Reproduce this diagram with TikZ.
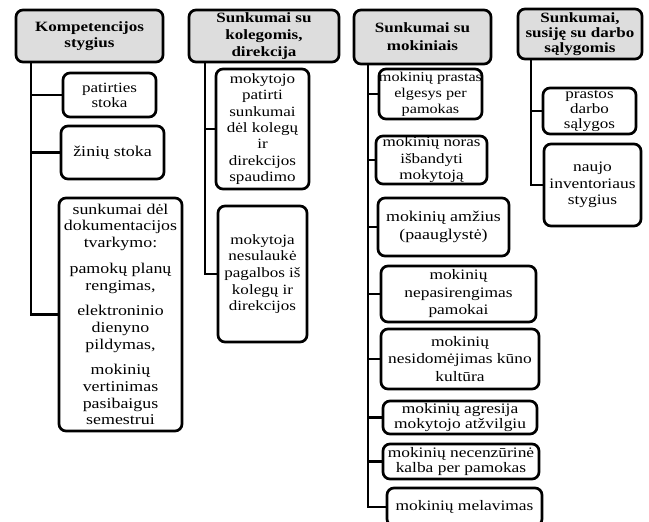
\documentclass[tikz,border=0pt]{standalone}
\usepackage{fontspec}
\setmainfont{Liberation Serif}[FakeStretch=1.2]
\newcommand\fsz[2]{\fontsize{#1pt}{#2pt}\selectfont}
\tikzset{
  box/.style={draw=black, line width=2.7pt, rounded corners=7pt, fill=white, align=center, inner sep=0pt},
  headbox/.style={box, fill=gray!27},
  conn/.style={draw=black, line width=2.7pt}
}
\begin{document}
\begin{tikzpicture}[x=1pt,y=1pt]
\useasboundingbox (0,0) rectangle (649,-522);
% column 1
\node[headbox, minimum width=147pt, minimum height=52pt, font=\fsz{14.2}{16.7}\bfseries] (h1) at (89.5,-36) {Kompetencijos\\stygius};
\node[box, minimum width=93pt, minimum height=44pt, font=\fsz{14.2}{15}] (a1) at (109.5,-95) {patirties\\stoka};
\node[box, minimum width=103pt, minimum height=53pt, font=\fsz{15}{16}] (a2) at (112.5,-152.5) {žinių stoka};
\node[box, minimum width=123pt, minimum height=233pt, font=\fsz{14.9}{16.7}] (a3) at (120.5,-314.5) {sunkumai dėl\\dokumentacijos\\tvarkymo:\\[9pt]pamokų planų\\rengimas,\\[9pt]elektroninio\\dienyno\\pildymas,\\[9pt]mokinių\\vertinimas\\pasibaigus\\semestrui};
\coordinate (s1) at (31,-62);
\draw[conn] (s1) |- (a1.west);
\draw[conn] (s1) |- (a2.west);
\draw[conn] (s1) |- (a3.west);
% column 2
\node[headbox, minimum width=150pt, minimum height=52pt, font=\fsz{14.2}{17}\bfseries] (h2) at (264,-36) {Sunkumai su\\kolegomis,\\direkcija};
\node[box, minimum width=93pt, minimum height=120pt, font=\fsz{14.2}{16.3}] (b1) at (262.5,-129) {mokytojo\\patirti\\sunkumai\\dėl kolegų\\ir\\direkcijos\\spaudimo};
\node[box, minimum width=89pt, minimum height=136pt, font=\fsz{14.2}{16.7}] (b2) at (262.5,-274) {mokytoja\\nesulaukė\\pagalbos iš\\kolegų ir\\direkcijos};
\coordinate (s2) at (205,-62);
\draw[conn] (s2) |- (b1.west);
\draw[conn] (s2) |- (b2.west);
% column 3
\node[headbox, minimum width=137pt, minimum height=54pt, font=\fsz{14.2}{18}\bfseries] (h3) at (422.5,-37) {Sunkumai su\\mokiniais};
\node[box, minimum width=103pt, minimum height=50pt, font=\fsz{13.5}{16}] (c1) at (430.5,-94) {mokinių prastas\\elgesys per\\pamokas};
\node[box, minimum width=111pt, minimum height=48pt, font=\fsz{14.2}{16.5}] (c2) at (431.5,-160) {mokinių noras\\išbandyti\\mokytoją};
\node[box, minimum width=131pt, minimum height=58pt, font=\fsz{14.9}{18}] (c3) at (443.5,-227) {mokinių amžius\\(paauglystė)};
\node[box, minimum width=155pt, minimum height=56pt, font=\fsz{14.5}{17.5}] (c4) at (458.5,-294) {mokinių\\nepasirengimas\\pamokai};
\node[box, minimum width=158pt, minimum height=60pt, font=\fsz{14.5}{17.5}] (c5) at (460,-359) {mokinių\\nesidomėjimas kūno\\kultūra};
\node[box, minimum width=154pt, minimum height=33pt, font=\fsz{14.5}{15.5}] (c6) at (460,-417.5) {mokinių agresija\\mokytojo atžvilgiu};
\node[box, minimum width=156pt, minimum height=35pt, font=\fsz{14.5}{15.5}] (c7) at (461,-461.5) {mokinių necenzūrinė\\kalba per pamokas};
\node[box, minimum width=155pt, minimum height=38pt, font=\fsz{14.5}{16}] (c8) at (464.5,-507) {mokinių melavimas};
\coordinate (s3) at (368,-64);
\foreach \n in {c1,c2,c3,c4,c5,c6,c7,c8} {\draw[conn] (s3) |- (\n.west);}
% column 4
\node[headbox, minimum width=124pt, minimum height=50pt, font=\fsz{14.2}{15}\bfseries] (h4) at (580,-34) {Sunkumai,\\susiję su darbo\\sąlygomis};
\node[box, minimum width=93pt, minimum height=46pt, font=\fsz{14.2}{15}] (d1) at (589.5,-111) {prastos\\darbo\\sąlygos};
\node[box, minimum width=97pt, minimum height=82pt, font=\fsz{14.5}{16.5}] (d2) at (592.5,-185) {naujo\\inventoriaus\\stygius};
\coordinate (s4) at (531,-59);
\draw[conn] (s4) |- (d1.west);
\draw[conn] (s4) |- (d2.west);
\end{tikzpicture}
\end{document}
